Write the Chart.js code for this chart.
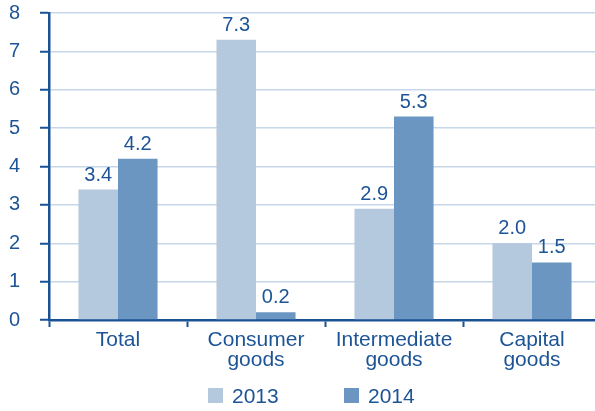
<!DOCTYPE html>
<html>
<head>
<meta charset="utf-8">
<script src="https://cdn.jsdelivr.net/npm/chart.js@4/dist/chart.umd.min.js"></script>
<style>
  html, body { margin: 0; padding: 0; background: #fff; overflow: hidden; }
  .wrap { position: relative; width: 601px; height: 411px; }
  .legend { position: absolute; left: 0; top: 385px; width: 601px; height: 20px;
            font: 21px "Liberation Sans", Arial, sans-serif; color: #1d5496; }
  .legend .item { position: absolute; top: 0; height: 20px; line-height: 20px; white-space: nowrap; }
  .legend .box { position: absolute; left: 0; top: 3px; width: 15px; height: 15px; }
  .legend .txt { position: absolute; left: 24px; top: 1px; }
</style>
</head>
<body>
<div class="wrap">
  <canvas id="chart" width="601" height="411"></canvas>
  <div class="legend" id="legend"></div>
</div>
<script>
// Categories and series
const categories = [['Total'], ['Consumer', 'goods'], ['Intermediate', 'goods'], ['Capital', 'goods']];
const years = ['2013', '2014'];
const values2013 = [3.4, 7.3, 2.9, 2.0];
const values2014 = [4.2, 0.2, 5.3, 1.5];
const yTicks = [0, 1, 2, 3, 4, 5, 6, 7, 8];

const textColor = '#1d5496';
const axisColor = '#1a5296';
const gridColor = '#c6d7ea';
const barColors = ['#b4c9de', '#6a96c1'];
const family = '"Liberation Sans", Arial, sans-serif';

// Value labels above each bar
const valueLabels = {
    id: 'valueLabels',
    afterDatasetsDraw(chart) {
        const ctx = chart.ctx;
        ctx.save();
        ctx.font = '20px ' + family;
        ctx.fillStyle = textColor;
        ctx.textAlign = 'center';
        ctx.textBaseline = 'alphabetic';
        chart.data.datasets.forEach((ds, i) => {
            chart.getDatasetMeta(i).data.forEach((bar, j) => {
                ctx.fillText(ds.data[j].toFixed(1), bar.x, bar.y - 9);
            });
        });
        ctx.restore();
    }
};

const chart = new Chart(document.getElementById('chart'), {
    type: 'bar',
    data: {
        labels: categories,
        datasets: [
            { label: years[0], data: values2013, backgroundColor: barColors[0] },
            { label: years[1], data: values2014, backgroundColor: barColors[1] }
        ]
    },
    options: {
        responsive: false,
        animation: false,
        layout: { padding: { top: 13, left: 9, right: 0, bottom: 0 } },
        datasets: { bar: { barPercentage: 1, categoryPercentage: 0.573 } },
        plugins: {
            legend: { display: false },
            tooltip: { enabled: false }
        },
        scales: {
            x: {
                grid: {
                    offset: true,
                    drawOnChartArea: false,
                    drawTicks: true,
                    tickLength: 7,
                    tickColor: axisColor,
                    tickWidth: 2
                },
                border: { color: axisColor, width: 2.5 },
                ticks: {
                    color: textColor,
                    font: { family: family, size: 21, lineHeight: 0.92 },
                    padding: 4,
                    maxRotation: 0,
                    autoSkip: false
                },
                afterFit(scale) { scale.height = 91; }
            },
            y: {
                min: 0,
                max: 8,
                afterBuildTicks(scale) { scale.ticks = yTicks.map(v => ({ value: v })); },
                grid: {
                    color: gridColor,
                    lineWidth: 1.5,
                    tickLength: 9,
                    tickColor: axisColor,
                    tickWidth: 2
                },
                border: { color: axisColor, width: 2.5 },
                ticks: {
                    color: textColor,
                    font: { family: family, size: 20, lineHeight: 1 },
                    padding: 0,
                    crossAlign: 'far'
                },
                afterFit(scale) { scale.width = 40; }
            }
        }
    },
    plugins: [valueLabels]
});

// Legend built from the datasets
const legendEl = document.getElementById('legend');
const legendX = [208, 344];
chart.data.datasets.forEach((ds, i) => {
    const item = document.createElement('div');
    item.className = 'item';
    item.style.left = legendX[i] + 'px';
    item.innerHTML = '<span class="box" style="background:' + ds.backgroundColor + '"></span><span class="txt">' + ds.label + '</span>';
    legendEl.appendChild(item);
});
</script>
</body>
</html>
